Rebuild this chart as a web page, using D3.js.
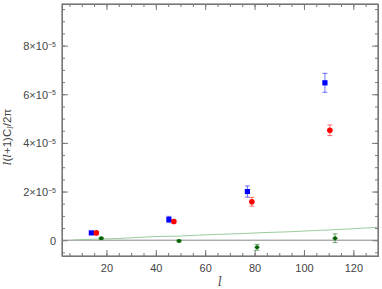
<!DOCTYPE html>
<html>
<head>
<meta charset="utf-8">
<script src="https://cdn.jsdelivr.net/npm/d3@7"></script>
<style>
  body { margin: 0; background: #fff; }
  svg { display: block; }
  .axis text { font-family: "Liberation Sans", Arial, sans-serif; font-size: 11px; fill: #444; }
  .axis path, .axis line { stroke: #777; }
</style>
</head>
<body>
<div id="chart"></div>
<script>
// data (values in units of 1e-5)
var blueL = [13.9, 45.3, 77.1, 108.5];
var blueV = [0.30, 0.85, 2.00, 6.47];
var blueE = [0.06, 0.13, 0.23, 0.39];

var redL = [15.9, 47.3, 78.9, 110.5];
var redV = [0.30, 0.77, 1.58, 4.52];
var redE = [0.05, 0.07, 0.18, 0.22];

var greenL = [17.9, 49.4, 81.0, 112.6];
var greenV = [0.08, -0.03, -0.29, 0.08];
var greenE = [0.04, 0.04, 0.12, 0.18];

var modelL = [6.6, 15, 25, 29, 40, 50, 56, 65, 75, 83, 95, 105, 110, 120, 129.6];
var modelV = [0.01, 0.04, 0.07, 0.095, 0.15, 0.17, 0.20, 0.24, 0.27, 0.31, 0.35, 0.40, 0.42, 0.47, 0.53];

var xMajor = [20, 40, 60, 80, 100, 120];
var yMajor = [0, 2, 4, 6, 8];

var W = 382, H = 289;
var margin = {top: 4, right: 4, bottom: 33, left: 62};
var width = W - margin.left - margin.right,
    height = H - margin.top - margin.bottom;

var svg = d3.select("#chart").append("svg")
  .attr("width", W)
  .attr("height", H);
var g = svg.append("g")
  .attr("transform", "translate(" + margin.left + "," + margin.top + ")");

var x = d3.scaleLinear().domain([2, 130]).range([0, width]);
var y = d3.scaleLinear().domain([-0.65, 9.71]).range([height, 0]);

var xMinor = d3.range(5, 130, 5);
var yMinor = d3.range(-0.5, 9.6, 0.5);

// minor ticks, all four sides
g.append("g").attr("class", "axis").attr("transform", "translate(0," + height + ")")
  .call(d3.axisBottom(x).tickValues(xMinor).tickSize(-3).tickFormat(""));
g.append("g").attr("class", "axis")
  .call(d3.axisTop(x).tickValues(xMinor).tickSize(-3).tickFormat(""));
g.append("g").attr("class", "axis")
  .call(d3.axisLeft(y).tickValues(yMinor).tickSize(-3).tickFormat(""));
g.append("g").attr("class", "axis").attr("transform", "translate(" + width + ",0)")
  .call(d3.axisRight(y).tickValues(yMinor).tickSize(-3).tickFormat(""));

// major ticks
g.append("g").attr("class", "axis").attr("transform", "translate(0," + height + ")")
  .call(d3.axisBottom(x).tickValues(xMajor).tickSize(-6).tickPadding(8));
g.append("g").attr("class", "axis")
  .call(d3.axisTop(x).tickValues(xMajor).tickSize(-6).tickFormat(""));
var yAx = g.append("g").attr("class", "axis")
  .call(d3.axisLeft(y).tickValues(yMajor).tickSize(-6).tickPadding(8).tickFormat(""));
g.append("g").attr("class", "axis").attr("transform", "translate(" + width + ",0)")
  .call(d3.axisRight(y).tickValues(yMajor).tickSize(-6).tickFormat(""));

// y tick labels as d×10^-5
yAx.selectAll(".tick").each(function(d) {
  var t = d3.select(this).append("text")
    .attr("x", -6).attr("dy", "0.35em")
    .attr("text-anchor", "end")
    .attr("fill", "#444");
  if (d === 0) {
    t.text("0");
  } else {
    t.append("tspan").text(d + "\u00d710");
    t.append("tspan").attr("dy", "-0.45em").attr("font-size", "7px").text("\u22125");
  }
});

// frame
g.append("rect")
  .attr("width", width).attr("height", height)
  .attr("fill", "none").attr("stroke", "#777").attr("stroke-width", 1.2);

// zero line
g.append("line")
  .attr("x1", 0).attr("x2", width)
  .attr("y1", y(0)).attr("y2", y(0))
  .attr("stroke", "#888").attr("stroke-width", 1);

// model line
var line = d3.line().x(function(d) { return x(d[0]); }).y(function(d) { return y(d[1]); });
g.append("path")
  .datum(d3.zip(modelL, modelV))
  .attr("d", line)
  .attr("fill", "none")
  .attr("stroke", "#9ccc9c")
  .attr("stroke-width", 1);

function errBars(L, V, E, color) {
  var data = d3.zip(L, V, E);
  var eg = g.append("g").attr("stroke", color).attr("stroke-opacity", 0.55).attr("stroke-width", 1);
  eg.selectAll("line.v").data(data).enter().append("line")
    .attr("x1", function(d) { return x(d[0]); })
    .attr("x2", function(d) { return x(d[0]); })
    .attr("y1", function(d) { return y(d[1] - d[2]); })
    .attr("y2", function(d) { return y(d[1] + d[2]); });
  eg.selectAll("line.lo").data(data).enter().append("line")
    .attr("x1", function(d) { return x(d[0]) - 2.5; })
    .attr("x2", function(d) { return x(d[0]) + 2.5; })
    .attr("y1", function(d) { return y(d[1] - d[2]); })
    .attr("y2", function(d) { return y(d[1] - d[2]); });
  eg.selectAll("line.hi").data(data).enter().append("line")
    .attr("x1", function(d) { return x(d[0]) - 2.5; })
    .attr("x2", function(d) { return x(d[0]) + 2.5; })
    .attr("y1", function(d) { return y(d[1] + d[2]); })
    .attr("y2", function(d) { return y(d[1] + d[2]); });
}

errBars(blueL, blueV, blueE, "#0000ff");
errBars(redL, redV, redE, "#ff0000");
errBars(greenL, greenV, greenE, "#006400");

// blue squares
g.selectAll("rect.blue").data(d3.zip(blueL, blueV)).enter().append("rect")
  .attr("x", function(d) { return x(d[0]) - 2.6; })
  .attr("y", function(d) { return y(d[1]) - 2.6; })
  .attr("width", 5.2).attr("height", 5.2)
  .attr("fill", "#0000ff");

// red circles
g.selectAll("circle.red").data(d3.zip(redL, redV)).enter().append("circle")
  .attr("cx", function(d) { return x(d[0]); })
  .attr("cy", function(d) { return y(d[1]); })
  .attr("r", 2.8)
  .attr("fill", "#ff0000");

// green points
g.selectAll("circle.green").data(d3.zip(greenL, greenV)).enter().append("circle")
  .attr("cx", function(d) { return x(d[0]); })
  .attr("cy", function(d) { return y(d[1]); })
  .attr("r", 2)
  .attr("fill", "#006400");
g.selectAll("line.green").data(d3.zip(greenL, greenV)).enter().append("line")
  .attr("x1", function(d) { return x(d[0]) - 2.5; })
  .attr("x2", function(d) { return x(d[0]) + 2.5; })
  .attr("y1", function(d) { return y(d[1]); })
  .attr("y2", function(d) { return y(d[1]); })
  .attr("stroke", "#006400").attr("stroke-width", 1);

// axis titles
svg.append("text")
  .attr("x", margin.left + x(66)).attr("y", 286)
  .attr("text-anchor", "middle")
  .attr("font-family", "'DejaVu Serif', serif").attr("font-style", "italic")
  .attr("font-size", "12px").attr("fill", "#444")
  .text("l");

var yl = svg.append("text")
  .attr("transform", "translate(11,137) rotate(-90)")
  .attr("text-anchor", "middle")
  .attr("font-family", "'Liberation Sans', Arial, sans-serif")
  .attr("font-size", "11.5px").attr("fill", "#444");
yl.append("tspan").attr("font-family", "'DejaVu Serif', serif").attr("font-style", "italic").text("l");
yl.append("tspan").text("(");
yl.append("tspan").attr("font-family", "'DejaVu Serif', serif").attr("font-style", "italic").text("l");
yl.append("tspan").text("+1)C");
yl.append("tspan").attr("dy", "2").attr("font-size", "8px")
  .attr("font-family", "'DejaVu Serif', serif").attr("font-style", "italic").text("l");
yl.append("tspan").attr("dy", "-2").text("/2\u03c0");
</script>
</body>
</html>
